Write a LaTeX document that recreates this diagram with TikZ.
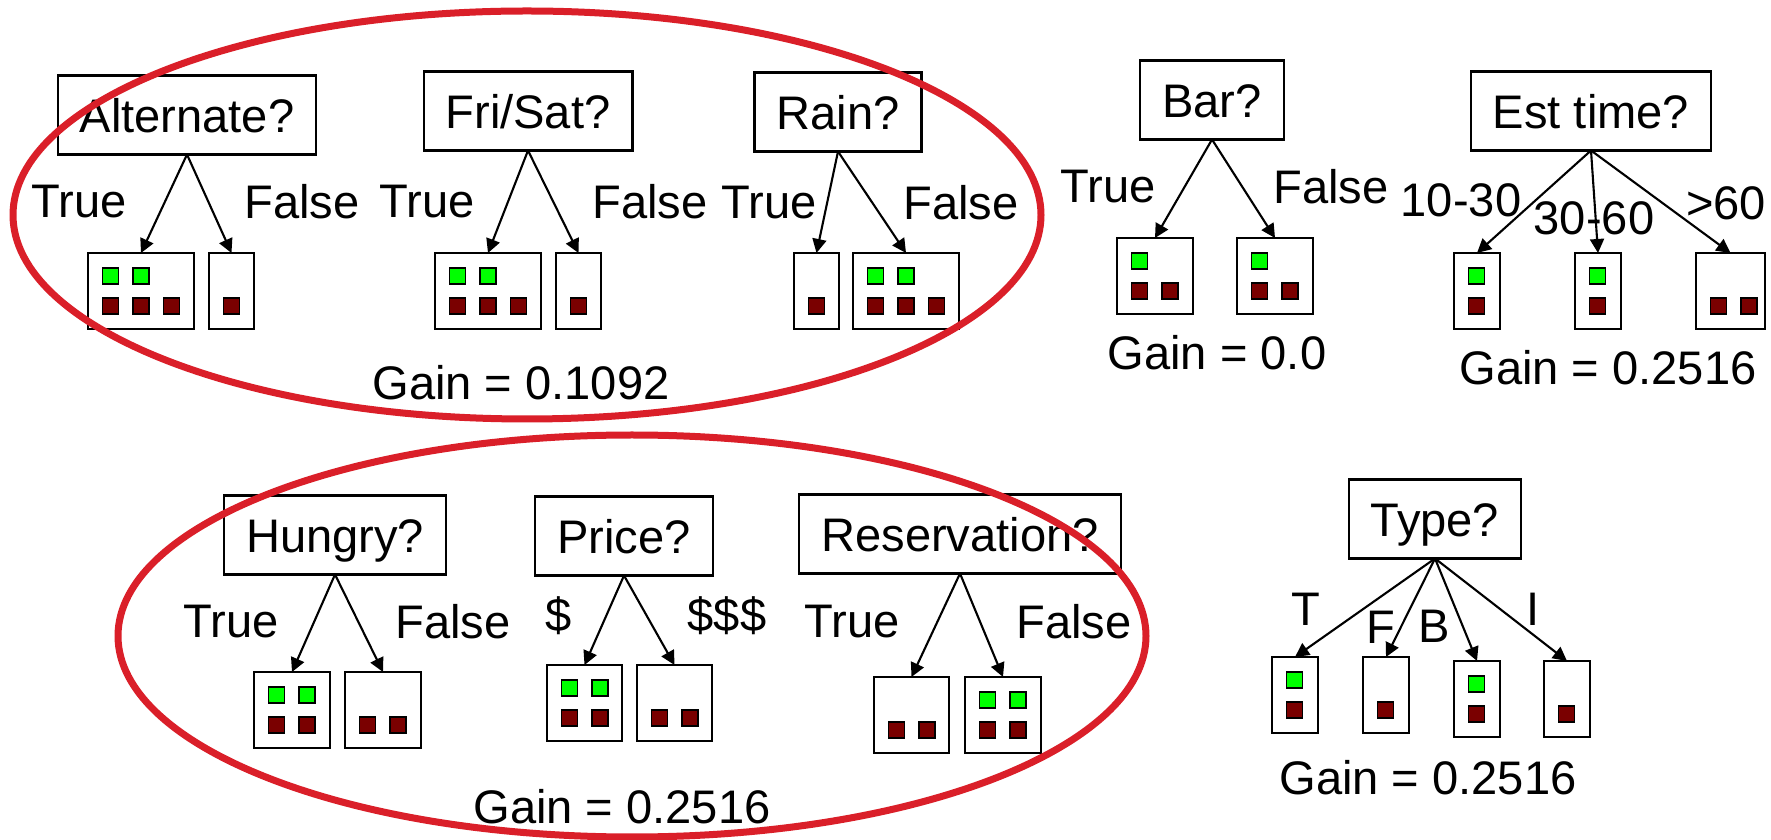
\documentclass[tikz,border=0pt]{standalone}
\usepackage{fontspec}
\setmainfont{Liberation Sans}
\usetikzlibrary{arrows.meta}
\definecolor{ringred}{RGB}{218,31,41}
\definecolor{yesgreen}{RGB}{0,255,0}
\definecolor{nored}{RGB}{122,0,0}

\begin{document}
\begin{tikzpicture}[x=0.1mm, y=-0.1mm, font=\fontsize{13.4}{16}\selectfont,
  question/.style={draw, line width=0.6pt, inner xsep=2.2mm, inner ysep=1.8mm, text height=3.9mm, text depth=0.4mm, outer sep=0pt},
  leaf/.style={draw, line width=0.6pt, anchor=north west, minimum height=7.6mm, inner sep=0pt, outer sep=0pt},
  yesbox/.style={fill=yesgreen, draw=black, line width=0.5pt},
  nobox/.style={fill=nored, draw=black, line width=0.5pt},
  arr/.style={-{Triangle[length=1.4mm, width=1.4mm]}, line width=0.6pt},
  ring/.style={draw=ringred, line width=0.7mm}]
\useasboundingbox (0,0) rectangle (1771,840);

\node [question] (alt) at (187,115) {Alternate?};
\node [question] (fri) at (528,111) {Fri/Sat?};
\node [question] (rain) at (838,112) {Rain?};
\node [question] (bar) at (1212,100) {Bar?};
\node [question] (est) at (1591,111) {Est time?};
\node [question] (hun) at (335,535) {Hungry?};
\node [question] (price) at (624,536) {Price?};
\node [question] (res) at (960,534) {Reservation?};
\node [question] (type) at (1435,519) {Type?};

\node [leaf, minimum width=10.6mm] (a1) at (88,253) {};
\node [leaf, minimum width=4.5mm] (a2) at (209,253) {};
\node [leaf, minimum width=10.6mm] (f1) at (435,253) {};
\node [leaf, minimum width=4.5mm] (f2) at (556,253) {};
\node [leaf, minimum width=4.5mm] (r1) at (794,253) {};
\node [leaf, minimum width=10.6mm] (r2) at (853,253) {};
\node [leaf, minimum width=7.6mm] (b1) at (1117,238) {};
\node [leaf, minimum width=7.6mm] (b2) at (1237,238) {};
\node [leaf, minimum width=4.6mm] (e1) at (1454,253) {};
\node [leaf, minimum width=4.6mm] (e2) at (1575,253) {};
\node [leaf, minimum width=6.9mm] (e3) at (1696,253) {};
\node [leaf, minimum width=4.6mm] (t1) at (1272,657) {};
\node [leaf, minimum width=4.6mm] (t2) at (1363,657) {};
\node [leaf, minimum width=4.6mm] (t3) at (1454,661) {};
\node [leaf, minimum width=4.6mm] (t4) at (1544,661) {};
\node [leaf, minimum width=7.6mm] (h1) at (254,672) {};
\node [leaf, minimum width=7.6mm] (h2) at (345,672) {};
\node [leaf, minimum width=7.5mm] (p1) at (547,665) {};
\node [leaf, minimum width=7.5mm] (p2) at (637,665) {};
\node [leaf, minimum width=7.5mm] (s1) at (874,677) {};
\node [leaf, minimum width=7.6mm] (s2) at (965,677) {};

\foreach \l/\g/\r in {a1/2/3, a2/0/1, f1/2/3, f2/0/1, r1/0/1, r2/2/3, b1/1/2, b2/1/2,
    e1/1/1, e2/1/1, e3/0/2, t1/1/1, t2/0/1, t3/1/1, t4/0/1,
    h1/2/2, h2/0/2, p1/2/2, p2/0/2, s1/0/2, s2/2/2}{
  \ifnum\g>0
    \foreach \i in {1,...,\g}
      \filldraw [yesbox] ([shift={(30.5*\i-16,15)}]\l.north west) rectangle +(16,16);
  \fi
  \foreach \i in {1,...,\r}
    \filldraw [nobox] ([shift={(30.5*\i-16,45)}]\l.north west) rectangle +(16,16);
}

\foreach \p/\c in {alt/a1, alt/a2, fri/f1, fri/f2, rain/r1, rain/r2, bar/b1, bar/b2,
    est/e1, est/e2, est/e3, type/t1, type/t2, type/t3, type/t4,
    hun/h1, hun/h2, price/p1, price/p2, res/s1, res/s2}
  \draw [arr] (\p.south) -- (\c.north);

\node (alt-t) at (79,202) {True};
\node (alt-f) at (302,202) {False};
\node (fri-t) at (427,202) {True};
\node (fri-f) at (650,202) {False};
\node (rain-t) at (769,203) {True};
\node (rain-f) at (961,203) {False};
\node (bar-t) at (1108,187) {True};
\node (bar-f) at (1331,187) {False};
\node (est-a) at (1461,200) {10-30};
\node (est-b) at (1594,218) {30-60};
\node (est-c) at (1726,203) {>60};
\node (type-t) at (1306,609) {T};
\node (type-f) at (1381,627) {F};
\node (type-b) at (1434,626) {B};
\node (type-i) at (1533,609) {I};
\node (hun-t) at (231,622) {True};
\node (hun-f) at (453,622) {False};
\node (price-l) at (559,616) {\$};
\node (price-h) at (727,616) {\$\$\$};
\node (res-t) at (852,622) {True};
\node (res-f) at (1074,622) {False};

\node (gain-top) at (521,383) {Gain = 0.1092};
\node (gain-bar) at (1217,353) {Gain = 0.0};
\node (gain-est) at (1608,368) {Gain = 0.2516};
\node (gain-type) at (1428,778) {Gain = 0.2516};
\node (gain-low) at (622,807) {Gain = 0.2516};

\draw [ring] (527,215) ellipse [x radius=51.4mm, y radius=20.4mm];
\draw [ring] (632,636) ellipse [x radius=51.4mm, y radius=20.1mm];
\end{tikzpicture}
\end{document}
